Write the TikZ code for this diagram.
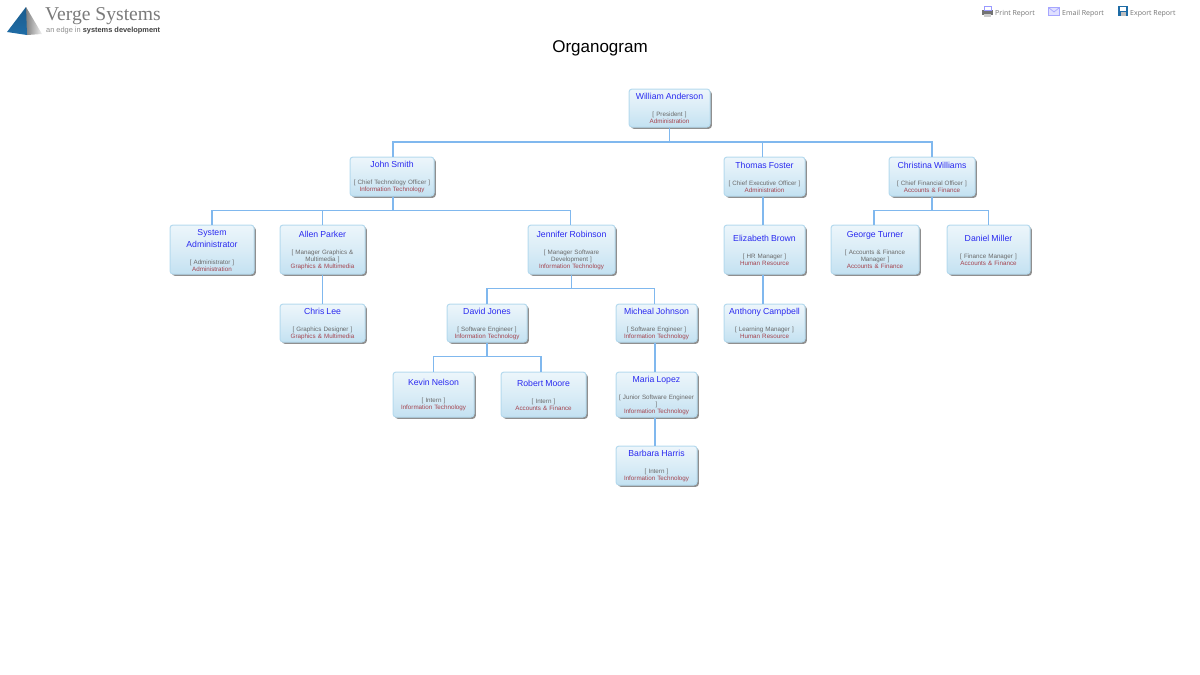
\documentclass[tikz,border=0pt]{standalone}
\usepackage{fontspec}
\setmainfont{Liberation Sans}
\newfontfamily\logofont{Liberation Serif}
\newfontfamily\toolfont{Open Sans}
\usetikzlibrary{shadows}
\definecolor{namecol}{HTML}{2A2AF0}
\definecolor{rolecol}{HTML}{6A6A6A}
\definecolor{deptcol}{HTML}{A5444F}
\definecolor{edgecol}{HTML}{B5DAEE}
\definecolor{linkcol}{HTML}{80B8EE}
\definecolor{logoblue}{HTML}{1F6CA6}
\newcommand{\emp}[3]{{\color{namecol}\fontsize{8.7}{10}\selectfont\rule{0pt}{8pt}#1}\\[10pt]
  {\color{rolecol}#2}\\{\color{deptcol}#3}}
\tikzset{empbox/.style 2 args={draw=edgecol, line width=1pt, rounded corners=3pt,
  top color=edgecol!25!white, bottom color=edgecol!80!white, middle color=edgecol!50!white,
  drop shadow={shadow xshift=1.8pt, shadow yshift=-1.8pt, fill=black!55, opacity=0.8},
  minimum width=#1pt, minimum height=#2pt, text width=#1pt-2pt, inner sep=0pt, align=center,
  font=\fontsize{6.25}{7}\selectfont},
  link/.style={draw=linkcol, line width=1.2pt},
  toollabel/.style={anchor=west, inner sep=0pt, text=black!55, font=\toolfont\fontsize{7}{9}\selectfont}}
\begin{document}
\begin{tikzpicture}[x=1pt,y=-1pt]
  \useasboundingbox (0,0) rectangle (1200,675);
  % logo
  \shade[left color=black!50, right color=black!5] (26,7) -- (27,35) -- (42,34) -- cycle;
  \shade[top color=logoblue!85!black, bottom color=logoblue] (7,32) -- (26,7) -- (27,35) -- cycle;
  \node[anchor=west, inner sep=0pt, text=black!52, font=\logofont\fontsize{19.6}{24}\selectfont] (logoname) at (45,16) {Verge Systems};
  \node[anchor=west, inner sep=0pt, text=black!45, font=\fontsize{7.4}{9}\selectfont] (logotag) at (46,31)
    {an edge in \textcolor{black!75}{\textbf{systems development}}};
  % toolbar
  \fill[black!55] (982,10) rectangle (993,15); % printer
  \draw[blue!40, line width=0.7pt] (984,6.5) rectangle (991,10);
  \fill[black!20] (984,14) rectangle (991,17);
  \node[toollabel] (printrep) at (995,14) {Print Report};
  \draw[blue!35, fill=blue!12, line width=0.7pt] (1048.5,7.5) rectangle (1059.5,15.5); % envelope
  \draw[blue!35, line width=0.7pt] (1048.5,7.5) -- (1054,12) -- (1059.5,7.5);
  \node[toollabel] (emailrep) at (1062,14) {Email Report};
  \fill[logoblue] (1118,6) rectangle (1128,16); % floppy
  \fill[white] (1120,6.5) rectangle (1126,10.5);
  \fill[black!25] (1120.5,12) rectangle (1125.5,16);
  \node[toollabel] (exportrep) at (1130,14) {Export Report};
  \node[inner sep=0pt, font=\fontsize{17}{20}\selectfont] (title) at (600,48.5) {Organogram};
  % people
  \node[empbox={81}{38}] (william) at (669.5,108) {\emp{William Anderson}{[ President ]}{Administration}};
  \node[empbox={84}{39}] (john) at (392,176.5) {\emp{John Smith}{[ Chief Technology Officer ]}{Information Technology}};
  \node[empbox={81}{39}] (thomas) at (764.5,176.5) {\emp{Thomas Foster}{[ Chief Executive Officer ]}{Administration}};
  \node[empbox={86}{39}] (christina) at (932,176.5) {\emp{Christina Williams}{[ Chief Financial Officer ]}{Accounts \& Finance}};
  \node[empbox={84}{49}] (sysadmin) at (212,249.5) {\emp{System\\[3pt]Administrator}{[ Administrator ]}{Administration}};
  \node[empbox={85}{49}] (allen) at (322.5,249.5) {\emp{Allen Parker}{[ Manager Graphics \&\\Multimedia ]}{Graphics \& Multimedia}};
  \node[empbox={87}{49}] (jennifer) at (571.5,249.5) {\emp{Jennifer Robinson}{[ Manager Software\\Development ]}{Information Technology}};
  \node[empbox={81}{49}] (elizabeth) at (764.5,249.5) {\emp{Elizabeth Brown}{[ HR Manager ]}{Human Resource}};
  \node[empbox={88}{49}] (george) at (875,249.5) {\emp{George Turner}{[ Accounts \& Finance\\Manager ]}{Accounts \& Finance}};
  \node[empbox={83}{49}] (daniel) at (988.5,249.5) {\emp{Daniel Miller}{[ Finance Manager ]}{Accounts \& Finance}};
  \node[empbox={85}{38}] (chris) at (322.5,323) {\emp{Chris Lee}{[ Graphics Designer ]}{Graphics \& Multimedia}};
  \node[empbox={80}{38}] (david) at (487,323) {\emp{David Jones}{[ Software Engineer ]}{Information Technology}};
  \node[empbox={81}{38}] (micheal) at (656.5,323) {\emp{Micheal Johnson}{[ Software Engineer ]}{Information Technology}};
  \node[empbox={81}{38}] (anthony) at (764.5,323) {\emp{Anthony Campbell}{[ Learning Manager ]}{Human Resource}};
  \node[empbox={81}{45}] (kevin) at (433.5,394.5) {\emp{Kevin Nelson}{[ Intern ]}{Information Technology}};
  \node[empbox={85}{45}] (robert) at (543.5,394.5) {\emp{Robert Moore}{[ Intern ]}{Accounts \& Finance}};
  \node[empbox={81}{45}] (maria) at (656.5,394.5) {\emp{Maria Lopez}{\mbox{[ Junior Software Engineer}\\]}{Information Technology}};
  \node[empbox={81}{39}] (barbara) at (656.5,465.5) {\emp{Barbara Harris}{[ Intern ]}{Information Technology}};
  % connectors
  \draw[link] (william.south) -- ++(0,14.5) -| ([xshift=1pt]john.north);
  \draw[link] (william.south) -- ++(0,14.5) -| ([xshift=-2pt]thomas.north);
  \draw[link] (william.south) -- ++(0,14.5) -| (christina.north);
  \draw[link] ([xshift=1pt]john.south) -- ++(0,14) -| (sysadmin.north);
  \draw[link] ([xshift=1pt]john.south) -- ++(0,14) -| (allen.north);
  \draw[link] ([xshift=1pt]john.south) -- ++(0,14) -| ([xshift=-1pt]jennifer.north);
  \draw[link] ([xshift=-1.5pt]thomas.south) -- ([xshift=-1.5pt]elizabeth.north);
  \draw[link] (christina.south) -- ++(0,14) -| ([xshift=-1pt]george.north);
  \draw[link] (christina.south) -- ++(0,14) -| (daniel.north);
  \draw[link] (allen.south) -- (chris.north);
  \draw[link] (jennifer.south) -- ++(0,14) -| (david.north);
  \draw[link] (jennifer.south) -- ++(0,14) -| ([xshift=-2pt]micheal.north);
  \draw[link] ([xshift=-1.5pt]elizabeth.south) -- ([xshift=-1.5pt]anthony.north);
  \draw[link] (david.south) -- ++(0,14) -| (kevin.north);
  \draw[link] (david.south) -- ++(0,14) -| ([xshift=-2.5pt]robert.north);
  \draw[link] ([xshift=-1.5pt]micheal.south) -- ([xshift=-1.5pt]maria.north);
  \draw[link] ([xshift=-1.5pt]maria.south) -- ([xshift=-1.5pt]barbara.north);
\end{tikzpicture}
\end{document}
